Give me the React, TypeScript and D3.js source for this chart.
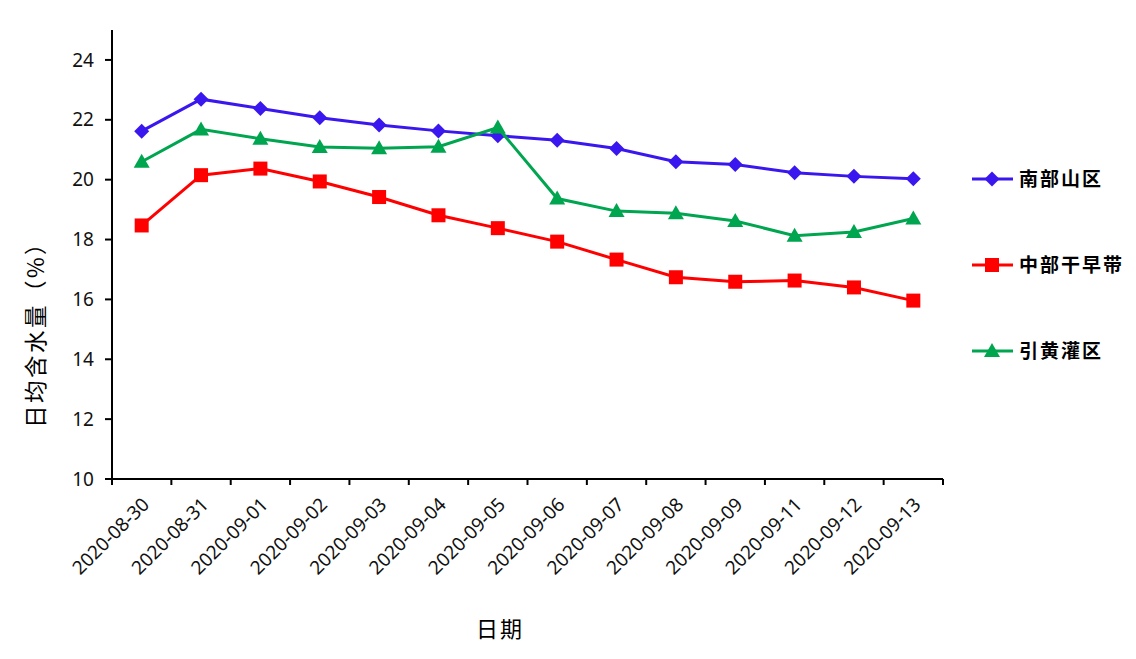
import React from "react";
import * as d3 from "d3";

const categories = [
  "2020-08-30", "2020-08-31", "2020-09-01", "2020-09-02", "2020-09-03",
  "2020-09-04", "2020-09-05", "2020-09-06", "2020-09-07", "2020-09-08",
  "2020-09-09", "2020-09-11", "2020-09-12", "2020-09-13",
];
const southMountain = [21.62, 22.69, 22.38, 22.07, 21.83, 21.63, 21.47, 21.32, 21.04, 20.6, 20.51, 20.23, 20.11, 20.03];
const centralArid = [18.47, 20.15, 20.37, 19.94, 19.42, 18.81, 18.38, 17.93, 17.33, 16.74, 16.59, 16.63, 16.4, 15.96];
const yellowRiver = [20.6, 21.68, 21.37, 21.09, 21.05, 21.1, 21.74, 19.37, 18.95, 18.88, 18.62, 18.13, 18.25, 18.7];
const yTicks = [10, 12, 14, 16, 18, 20, 22, 24];

const series = [
  { name: "南部山区", values: southMountain, color: "#3A17EE", shape: "diamond" },
  { name: "中部干旱带", values: centralArid, color: "#FF0000", shape: "square" },
  { name: "引黄灌区", values: yellowRiver, color: "#00A550", shape: "triangle" },
];
const legendLabels = ["南部山区", "中部干早带", "引黄灌区"];

const W = 1136, H = 659;
const left = 112, right = 943, top = 30, bottom = 479;

function Marker({ shape, x, y, color }: { shape: string; x: number; y: number; color: string }) {
  if (shape === "diamond") {
    const s = 7.5;
    return <path d={`M${x},${y - s}L${x + s},${y}L${x},${y + s}L${x - s},${y}Z`} fill={color} />;
  }
  if (shape === "square") {
    const s = 7;
    return <rect x={x - s} y={y - s} width={2 * s} height={2 * s} fill={color} />;
  }
  const s = 8;
  return <path d={`M${x},${y - s}L${x + s},${y + 6}L${x - s},${y + 6}Z`} fill={color} />;
}

export default function App() {
  const x = d3.scaleBand<string>().domain(categories).range([left, right]);
  const y = d3.scaleLinear().domain([10, 25]).range([bottom, top]);
  const line = d3
    .line<number>()
    .x((_, i) => (x(categories[i]) as number) + x.bandwidth() / 2)
    .y((d) => y(d));
  const edges = categories.map((c) => x(c) as number).concat([right]);
  const tickFont = "'Noto Sans', 'Open Sans', sans-serif";
  const cjk = "'Noto Sans CJK SC', sans-serif";
  const legendY = [179, 265, 351];

  return (
    <svg width={W} height={H} style={{ position: "absolute", left: 0, top: 0, background: "#fff" }}>
      {/* axes */}
      <line x1={left} y1={top} x2={left} y2={bottom} stroke="#000" strokeWidth={2} />
      <line x1={left} y1={bottom} x2={right} y2={bottom} stroke="#000" strokeWidth={2} />
      {yTicks.map((t) => (
        <g key={t}>
          <line x1={left - 7} x2={left} y1={y(t)} y2={y(t)} stroke="#000" strokeWidth={2} />
          <text x={left - 18} y={y(t)} dy="0.35em" textAnchor="end" fontFamily={tickFont} fontSize={19} fill="#111">
            {t}
          </text>
        </g>
      ))}
      {edges.map((e, i) => (
        <line key={i} x1={e} x2={e} y1={bottom} y2={bottom + 6} stroke="#000" strokeWidth={2} />
      ))}
      {categories.map((c) => {
        const cx = (x(c) as number) + x.bandwidth() / 2 + 4;
        const cy = bottom + 22;
        return (
          <text
            key={c}
            x={cx}
            y={cy}
            transform={`rotate(-45 ${cx} ${cy})`}
            textAnchor="end"
            dy="0.35em"
            fontFamily={tickFont}
            fontSize={19}
            fill="#111"
          >
            {c}
          </text>
        );
      })}
      {/* series */}
      {series.map((s) => (
        <g key={s.name}>
          <path d={line(s.values) || ""} fill="none" stroke={s.color} strokeWidth={3} />
          {s.values.map((v, i) => (
            <Marker
              key={i}
              shape={s.shape}
              x={(x(categories[i]) as number) + x.bandwidth() / 2}
              y={y(v)}
              color={s.color}
            />
          ))}
        </g>
      ))}
      {/* legend */}
      {series.map((s, i) => (
        <g key={s.name}>
          <line x1={972} x2={1013} y1={legendY[i]} y2={legendY[i]} stroke={s.color} strokeWidth={3} />
          <Marker shape={s.shape} x={992} y={legendY[i]} color={s.color} />
          <text
            x={1019}
            y={legendY[i]}
            dy="0.35em"
            fontFamily={cjk}
            fontWeight={700}
            fontSize={19}
            letterSpacing={2}
            fill="#000"
          >
            {legendLabels[i]}
          </text>
        </g>
      ))}
      {/* axis titles */}
      <text
        x={36}
        y={329}
        transform="rotate(-90 36 329)"
        textAnchor="middle"
        dy="0.35em"
        fontFamily={cjk}
        fontSize={22.5}
        letterSpacing={2.5}
        fill="#000"
      >
        日均含水量（%）
      </text>
      <text x={500} y={629} textAnchor="middle" dy="0.35em" fontFamily={cjk} fontSize={22} letterSpacing={2} fill="#000">
        日期
      </text>
    </svg>
  );
}
